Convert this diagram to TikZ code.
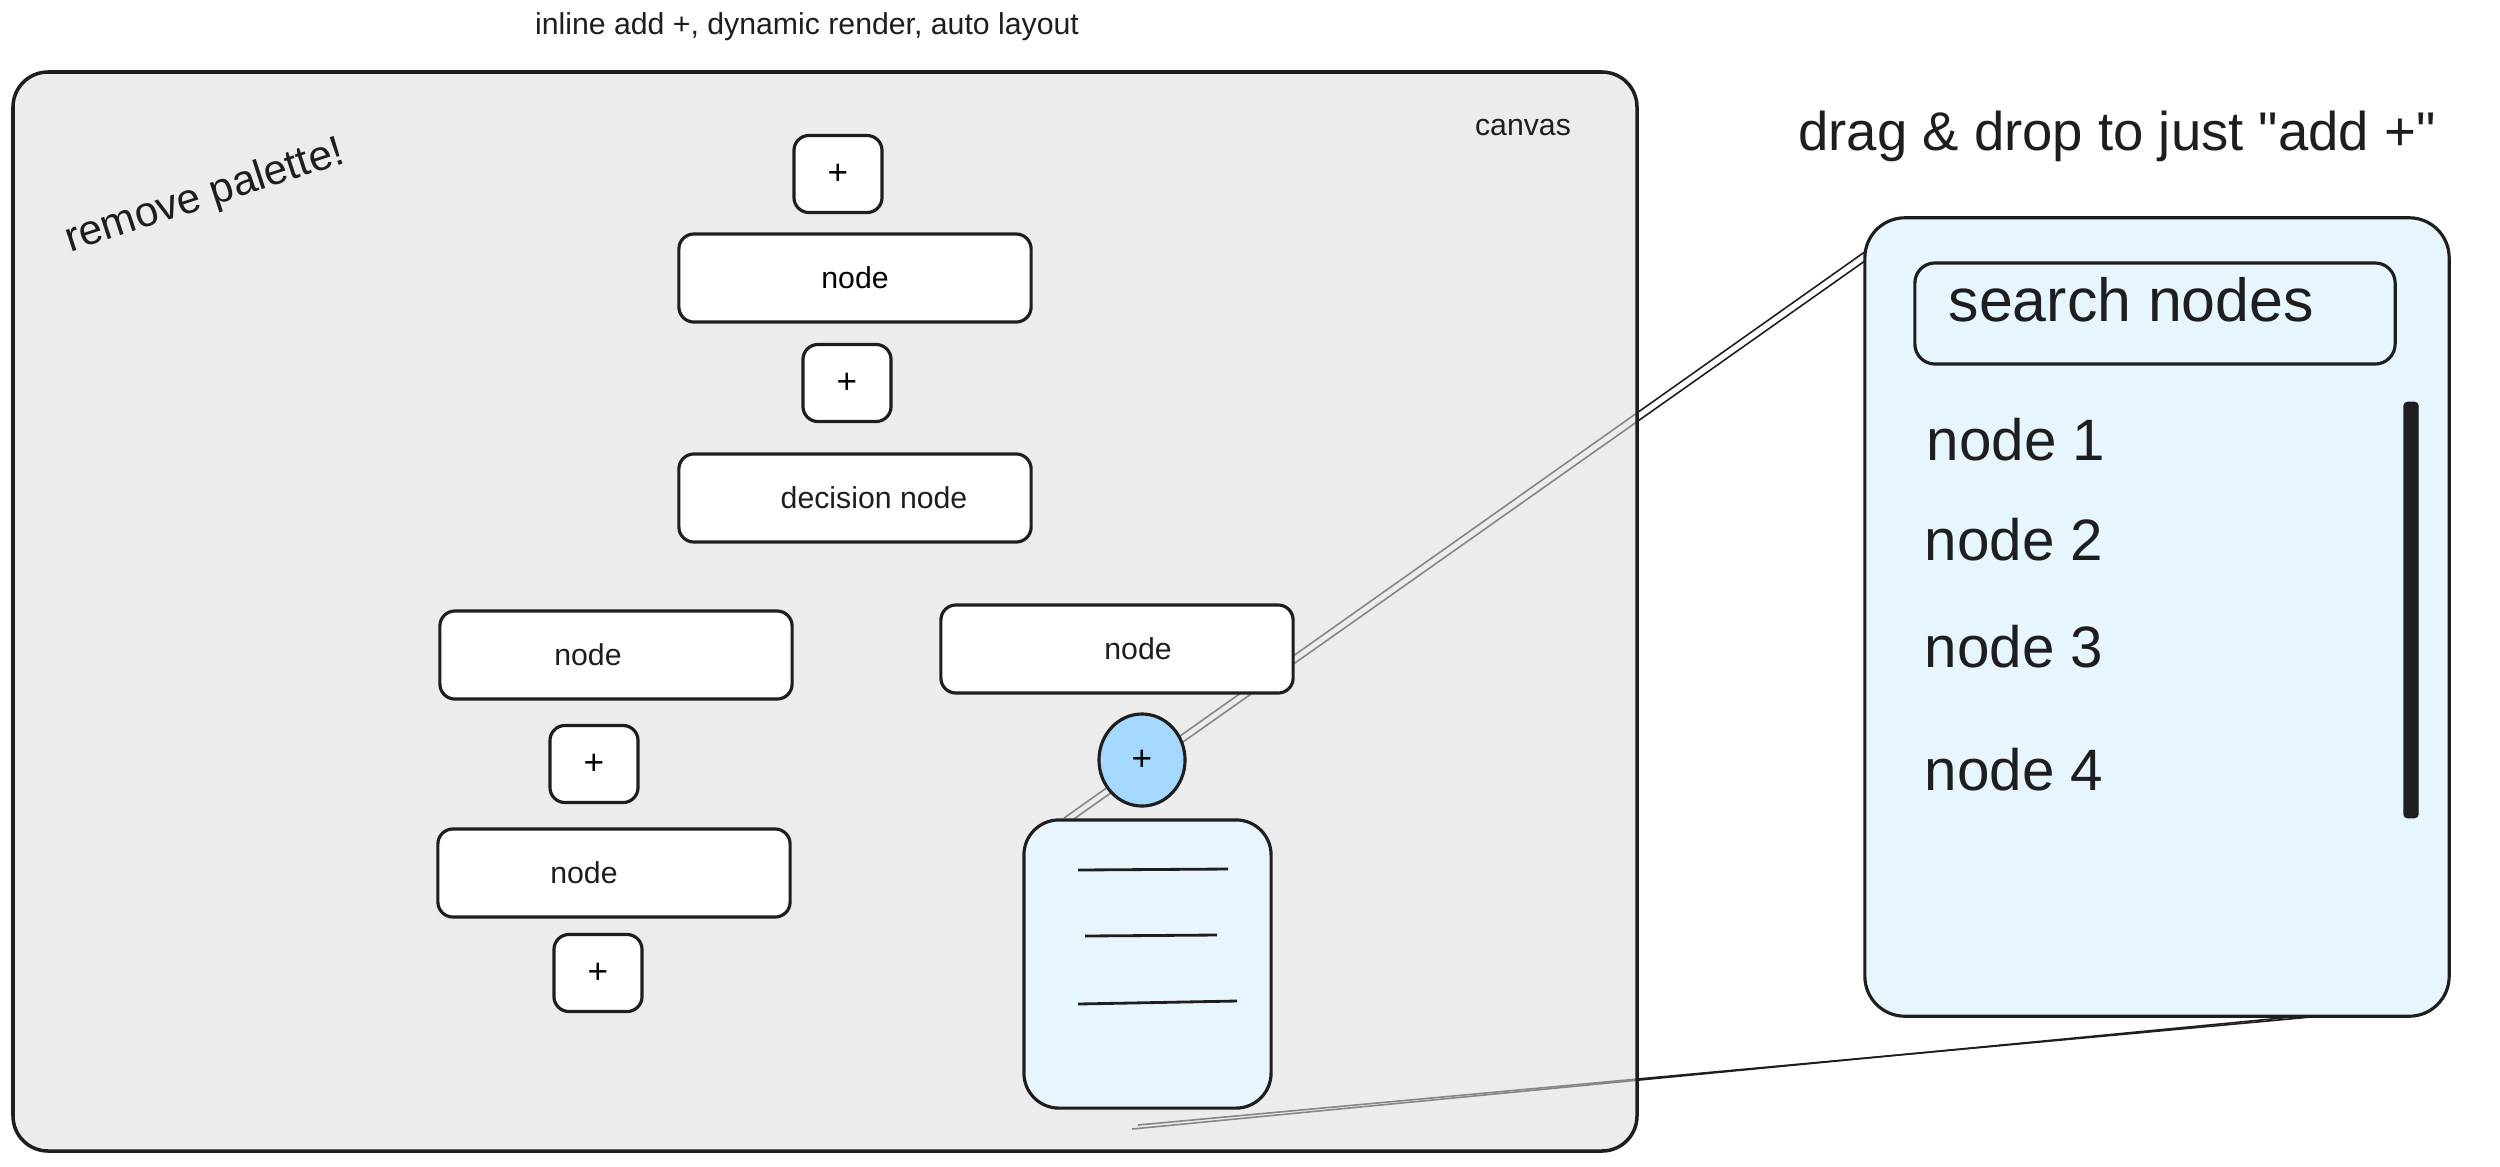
\documentclass[tikz,border=0pt]{standalone}
\usepackage{fontspec}
\setmainfont{Liberation Sans}
\newfontfamily\plainfont{Liberation Sans}
\usetikzlibrary{shapes.geometric}
\definecolor{canvasgray}{HTML}{DCDCDC}
\definecolor{bluefill}{HTML}{A5D8FF}
\definecolor{paleblue}{HTML}{E7F5FF}
\definecolor{ink}{HTML}{1E1E1E}
\begin{document}
\begin{tikzpicture}[x=0.01cm,y=-0.01cm,
  ln/.style={draw=ink,line width=0.9pt},
  small/.style={font=\fontsize{8.6}{10}\selectfont,inner sep=0pt,text=ink},
  box/.style={ln,fill=white,rounded corners=0.15cm,minimum width=3.52cm,minimum height=0.88cm,inner sep=0pt,font=\fontsize{8.6}{10}\selectfont},
  plusbox/.style={ln,fill=white,rounded corners=0.15cm,minimum width=0.88cm,minimum height=0.77cm,inner sep=0pt,font=\fontsize{10}{12}\selectfont},
  listitem/.style={font=\fontsize{16.6}{20}\selectfont,anchor=west,inner sep=0pt,text=ink},
  zoomline/.style={draw=ink,line width=0.45pt},
  rule/.style={draw=ink,line width=0.8pt},
]
\useasboundingbox (0,0) rectangle (2500,1166);

% zoom callout end points
\coordinate (zA1) at (1064,818);
\coordinate (zB1) at (1866,251);
\coordinate (zA1b) at (1071,821);
\coordinate (zB1b) at (1869,258);
\coordinate (zA2) at (1132,1129);
\coordinate (zB2) at (2354,1011);
\coordinate (zA2b) at (1138,1125);
\coordinate (zB2b) at (2322,1016);

\draw[zoomline] (zA1) -- (zB1);
\draw[zoomline] (zA1b) -- (zB1b);
\draw[zoomline] (zA2) -- (zB2);
\draw[zoomline] (zA2b) -- (zB2b);

% canvas
\path[fill=canvasgray,fill opacity=0.55,rounded corners=0.35cm] (13,72) rectangle (1637,1151);
\draw[draw=ink,line width=1pt,rounded corners=0.35cm] (13,72) rectangle (1637,1151);

% texts
\node[small] (toptxt) at (807,27) {inline add +, dynamic render, auto layout};
\node[small] (canvaslbl) at (1523,128) {canvas};
\node[font=\fontsize{12}{14}\selectfont,inner sep=0pt,text=ink,rotate=18] (remove) at (205,197) {remove palette!};

% flow
\node[plusbox] (p1) at (838,174) {+};
\node[box] (n1) at (855,278) {node};
\node[plusbox] (p2) at (847,383) {+};
\node[box,label={[small,xshift=0.19cm]center:decision node}] (dec) at (855,498) {};
\node[box,label={[small,xshift=-0.28cm]center:node}] (n3) at (616,655) {};
\node[box,label={[small,xshift=0.21cm]center:node}] (n4) at (1117,649) {};
\node[plusbox] (p3) at (594,764) {+};
\node[ln,ellipse,fill=bluefill,minimum width=0.86cm,minimum height=0.92cm,inner sep=0pt,font=\fontsize{10}{12}\selectfont] (addc) at (1142,760) {+};
\node[box,label={[small,xshift=-0.30cm]center:node}] (n5) at (614,873) {};
\node[plusbox] (p4) at (598,973) {+};

% small palette preview
\node[ln,fill=paleblue,rounded corners=0.35cm,minimum width=2.47cm,minimum height=2.88cm,inner sep=0pt] (sp) at (1147.5,964) {};
\draw[rule] (1078,870) -- (1228,869);
\draw[rule] (1085,936) -- (1217,935);
\draw[rule] (1078,1004) -- (1237,1001);

% right panel
\node[font=\plainfont\fontsize{15.5}{18}\selectfont,inner sep=0pt,text=ink] (title) at (2117,136) {drag \& drop to just "add +"};
\node[ln,fill=paleblue,rounded corners=0.4cm,minimum width=5.84cm,minimum height=7.98cm,inner sep=0pt] (panel) at (2157,617) {};
\node[ln,fill=paleblue,rounded corners=0.2cm,minimum width=4.8cm,minimum height=1.01cm,inner sep=0pt] (search) at (2155,313.5) {};
\node[font=\fontsize{17.3}{20}\selectfont,anchor=west,inner sep=0pt,text=ink] (searchtxt) at (1948,300) {search nodes};
\node[listitem] (i1) at (1926,440) {node 1};
\node[listitem] (i2) at (1924,540) {node 2};
\node[listitem] (i3) at (1924,647) {node 3};
\node[listitem] (i4) at (1924,770) {node 4};
\node[fill=ink,draw=ink,rounded corners=1pt,minimum width=0.14cm,minimum height=4.15cm,inner sep=0pt] (scroll) at (2411,610) {};
\end{tikzpicture}
\end{document}
